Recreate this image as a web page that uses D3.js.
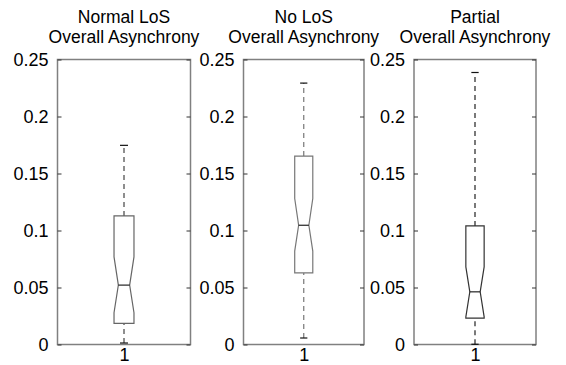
<!DOCTYPE html>
<html>
<head>
<meta charset="utf-8">
<script src="https://cdn.jsdelivr.net/npm/d3@7"></script>
<style>
  body { margin: 0; background: #fff; }
  svg { display: block; font-family: "Liberation Sans", Arial, sans-serif; }
</style>
</head>
<body>
<div id="chart"></div>
<script>
// values
var titles = ["Normal LoS", "No LoS", "Partial"];
var subtitle = "Overall Asynchrony";
var whiskerLow = [0.0013, 0.0057, 0.0002];
var q1 = [0.0186, 0.0629, 0.0232];
var notchLow = [0.0279, 0.0819, 0.0243];
var median = [0.0521, 0.1046, 0.0462];
var notchHigh = [0.0769, 0.1280, 0.0681];
var q3 = [0.1128, 0.1653, 0.1040];
var whiskerHigh = [0.1747, 0.2293, 0.2386];
var yTicks = [0, 0.05, 0.1, 0.15, 0.2, 0.25];
var xTicks = [1];

// layout
var svgWidth = 566, svgHeight = 365;
var panelX = [[57.5, 190.5], [243.5, 364], [414, 536]];
var plotTop = 59.5, plotBottom = 344.5;
var boxColor = ["#666", "#777", "#333"];
var whiskColor = ["#444", "#777", "#222"];

var svg = d3.select("#chart").append("svg")
  .attr("width", svgWidth)
  .attr("height", svgHeight);

var y = d3.scaleLinear().domain([0, 0.25]).range([plotBottom, plotTop]);

titles.forEach(function(t, i) {
  var x = d3.scaleLinear().domain([0.5, 1.5]).range(panelX[i]);
  var g = svg.append("g");
  var cx = x(1);

  // frame
  g.append("rect")
    .attr("x", x(0.5)).attr("y", plotTop)
    .attr("width", x(1.5) - x(0.5)).attr("height", plotBottom - plotTop)
    .attr("fill", "none").attr("stroke", "#808080").attr("stroke-width", 1.5);

  // y ticks, inward on both sides
  var leftAxis = d3.axisLeft(y).tickValues(yTicks).tickSize(-4).tickPadding(9)
    .tickFormat(d3.format(""));
  var gl = g.append("g").attr("transform", "translate(" + x(0.5) + ",0)").call(leftAxis);
  gl.select(".domain").remove();
  gl.selectAll("line").attr("stroke", "#333");
  gl.selectAll("text").attr("fill", "#000").style("font-size", "18px")
    .style("font-family", "'Liberation Sans', Arial, sans-serif");

  var rightAxis = d3.axisRight(y).tickValues(yTicks).tickSize(-4).tickFormat("");
  var gr = g.append("g").attr("transform", "translate(" + x(1.5) + ",0)").call(rightAxis);
  gr.select(".domain").remove();
  gr.selectAll("line").attr("stroke", "#333");

  // x tick label
  var bottomAxis = d3.axisBottom(x).tickValues(xTicks).tickSize(0).tickPadding(4)
    .tickFormat(d3.format("d"));
  var gb = g.append("g").attr("transform", "translate(0," + plotBottom + ")").call(bottomAxis);
  gb.select(".domain").remove();
  gb.selectAll("text").attr("fill", "#000").style("font-size", "18px")
    .style("font-family", "'Liberation Sans', Arial, sans-serif");

  // titles
  g.append("text").attr("x", cx).attr("y", 23).attr("text-anchor", "middle")
    .style("font-size", "17.5px").text(t);
  g.append("text").attr("x", cx).attr("y", 43).attr("text-anchor", "middle")
    .style("font-size", "17.5px").text(subtitle);

  // whiskers
  var capW = 0.03, boxW = 0.075, notchW = 0.0425;
  [[q3[i], whiskerHigh[i]], [whiskerLow[i], q1[i]]].forEach(function(w) {
    g.append("line")
      .attr("x1", cx).attr("x2", cx)
      .attr("y1", y(w[0])).attr("y2", y(w[1]))
      .attr("stroke", whiskColor[i]).attr("stroke-width", 1.2)
      .attr("stroke-dasharray", "5,4");
  });
  [whiskerLow[i], whiskerHigh[i]].forEach(function(v) {
    g.append("line")
      .attr("x1", x(1 - capW)).attr("x2", x(1 + capW))
      .attr("y1", y(v)).attr("y2", y(v))
      .attr("stroke", "#111").attr("stroke-width", 1.2);
  });

  // notched box
  var pts = [
    [1 - boxW, q3[i]], [1 + boxW, q3[i]], [1 + boxW, notchHigh[i]],
    [1 + notchW, median[i]], [1 + boxW, notchLow[i]], [1 + boxW, q1[i]],
    [1 - boxW, q1[i]], [1 - boxW, notchLow[i]], [1 - notchW, median[i]],
    [1 - boxW, notchHigh[i]]
  ];
  var line = d3.line().x(function(d) { return x(d[0]); }).y(function(d) { return y(d[1]); });
  g.append("path")
    .attr("d", line(pts) + "Z")
    .attr("fill", "#fff").attr("stroke", boxColor[i]).attr("stroke-width", 1.2);

  // median
  g.append("line")
    .attr("x1", x(1 - notchW)).attr("x2", x(1 + notchW))
    .attr("y1", y(median[i])).attr("y2", y(median[i]))
    .attr("stroke", "#222").attr("stroke-width", 1.2);
});
</script>
</body>
</html>
